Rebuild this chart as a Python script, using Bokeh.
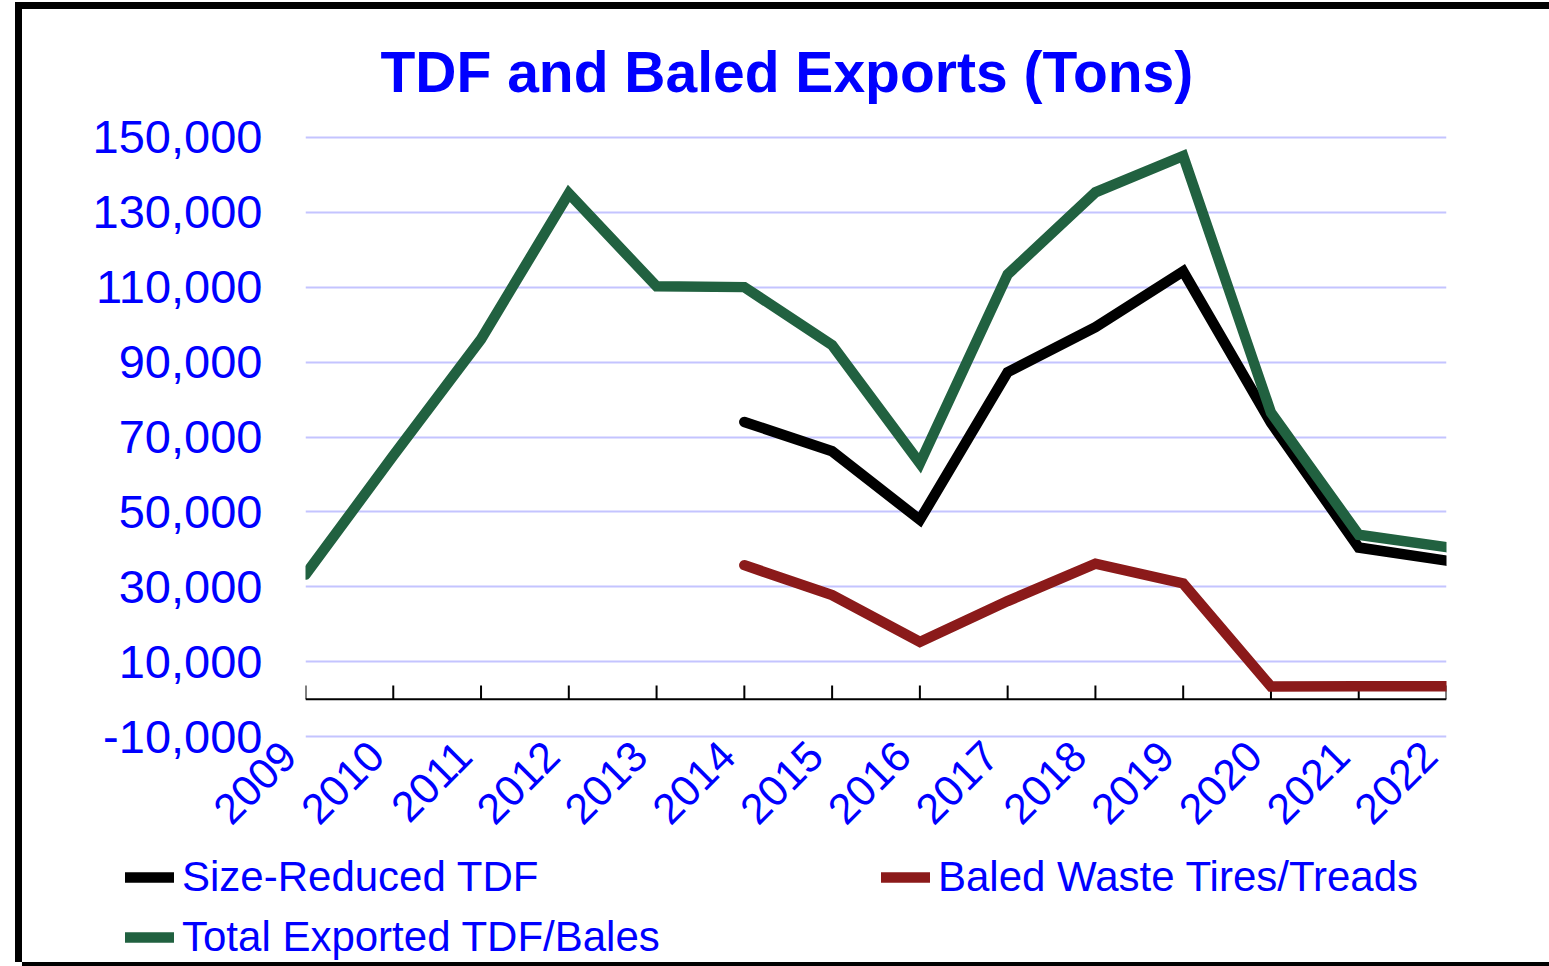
import math
from bokeh.plotting import figure
from bokeh.layouts import column
from bokeh.models import (Range1d, FixedTicker, NumeralTickFormatter, Span,
                          Legend, LegendItem, Title)
from bokeh.embed import file_html
from bokeh.resources import INLINE

# ---- data ----
years = [2009, 2010, 2011, 2012, 2013, 2014, 2015, 2016, 2017, 2018, 2019, 2020, 2021, 2022]
year_labels = ["2009", "2010", "2011", "2012", "2013", "2014", "2015", "2016",
               "2017", "2018", "2019", "2020", "2021", "2022"]
sub_years = [2014, 2015, 2016, 2017, 2018, 2019, 2020, 2021, 2022]
size_reduced_tdf = [74000, 66200, 47900, 87300, 99300, 114200, 73800, 40500, 37000]
baled_tires = [35800, 27800, 15300, 26200, 36200, 30900, 3400, 3500, 3500]
total_exported = [33300, 65000, 96100, 135000, 110200, 110000, 94500, 63000,
                  113400, 135300, 145000, 76500, 43900, 40600]
y_ticks = [-10000, 10000, 30000, 50000, 70000, 90000, 110000, 130000, 150000]
series_names = ["Size-Reduced TDF", "Baled Waste Tires/Treads", "Total Exported TDF/Bales"]
chart_title = "TDF and Baled Exports (Tons)"

BLUE = "#0000FF"
GREEN = "#216140"
RED = "#8B1A1A"
FONT = "Liberation Sans"
LW = 10.5

W = 1527
H1, H2 = 843, 110

fig = figure(width=W, height=H1, output_backend="svg", toolbar_location=None,
             x_range=Range1d(years[0], years[-1]), y_range=Range1d(-11000, 151000),
             min_border_left=283, min_border_right=103, min_border_top=124,
             min_border_bottom=108)
fig.title = None
fig.frame_align = False
fig.background_fill_color = "white"
fig.border_fill_color = "white"
fig.outline_line_color = None

# title
ttl = Title(text=chart_title, text_font=FONT, text_font_style="bold",
            text_font_size="57px", text_color=BLUE, align="left", offset=75,
            vertical_align="top", standoff=56)
fig.add_layout(ttl, "above")

# axes
NB = "\u00a0\u00a0"
xa = fig.below[0]
xa.ticker = FixedTicker(ticks=years)
xa.major_label_overrides = {y: l + NB for y, l in zip(years, year_labels)}
xa.major_label_orientation = math.pi / 4
xa.major_label_text_font = FONT
xa.major_label_text_font_size = "43px"
xa.major_label_text_color = BLUE
xa.axis_line_color = None
xa.major_tick_line_color = None
xa.minor_tick_line_color = None
xa.major_tick_out = 0
xa.major_tick_in = 0
xa.major_label_standoff = -9

ya = fig.left[0]
ya.ticker = FixedTicker(ticks=y_ticks)
ya.formatter = NumeralTickFormatter(format="0,0")
ya.major_label_text_font = FONT
ya.major_label_text_font_size = "47px"
ya.major_label_text_color = BLUE
ya.axis_line_color = None
ya.major_tick_line_color = None
ya.minor_tick_line_color = None
ya.major_tick_out = 0
ya.major_tick_in = 0
ya.major_label_standoff = 43

fig.xgrid.grid_line_color = None
fig.ygrid.grid_line_color = "#C4C4FF"
fig.ygrid.grid_line_width = 2

# horizontal axis line at zero with tick marks
fig.add_layout(Span(location=0, dimension="width", line_color="black", line_width=2))
fig.segment(x0=years, y0=[0] * len(years), x1=years, y1=[3700] * len(years),
            line_color="black", line_width=2)

# series
fig.line(sub_years, size_reduced_tdf, line_color="black", line_width=LW,
         line_cap="round", line_join="miter")
fig.line(sub_years, baled_tires, line_color=RED, line_width=LW,
         line_cap="round", line_join="miter")
fig.line(years, total_exported, line_color=GREEN, line_width=LW,
         line_cap="round", line_join="miter")

# ---- legend strip below the chart (same series, ranges chosen so only keys show) ----
lf = figure(width=W, height=H2, output_backend="svg", toolbar_location=None,
            x_range=Range1d(0, 1), y_range=Range1d(0, 1),
            x_axis_location=None, y_axis_location=None,
            min_border=0)
lf.frame_align = False
lf.outline_line_color = None
lf.background_fill_color = "white"
lf.border_fill_color = "white"
lf.xgrid.visible = False
lf.ygrid.visible = False
k_sr = lf.line(sub_years, size_reduced_tdf, line_color="black", line_width=LW, line_cap="round")
k_bl = lf.line(sub_years, baled_tires, line_color=RED, line_width=LW, line_cap="round")
k_tot = lf.line(years, total_exported, line_color=GREEN, line_width=LW, line_cap="round")

def style_legend(lg):
    lg.label_text_font = FONT
    lg.label_text_font_size = "42px"
    lg.label_text_color = BLUE
    lg.glyph_width = 49
    lg.glyph_height = 50
    lg.label_height = 50
    lg.label_standoff = 8
    lg.padding = 0
    lg.margin = 0
    lg.spacing = 10
    lg.border_line_color = None
    lg.background_fill_alpha = 0

leg_a = Legend(items=[LegendItem(label=series_names[0], renderers=[k_sr]),
                      LegendItem(label=series_names[2], renderers=[k_tot])],
               location=(103, 0))
leg_b = Legend(items=[LegendItem(label=series_names[1], renderers=[k_bl])],
               location=(859, 60))
style_legend(leg_a)
style_legend(leg_b)
lf.add_layout(leg_a, "center")
lf.add_layout(leg_b, "center")

p = column(fig, lf, spacing=0)
p.margin = (9, 0, 0, 22)
p.styles = {"box-shadow": ("-7px 0 0 0 #000000, 0 -7px 0 0 #000000, "
                           "-7px -7px 0 0 #000000, 0 4px 0 0 #000000"),
            "background-color": "white"}

open("out.html", "w").write(file_html(p, INLINE))
